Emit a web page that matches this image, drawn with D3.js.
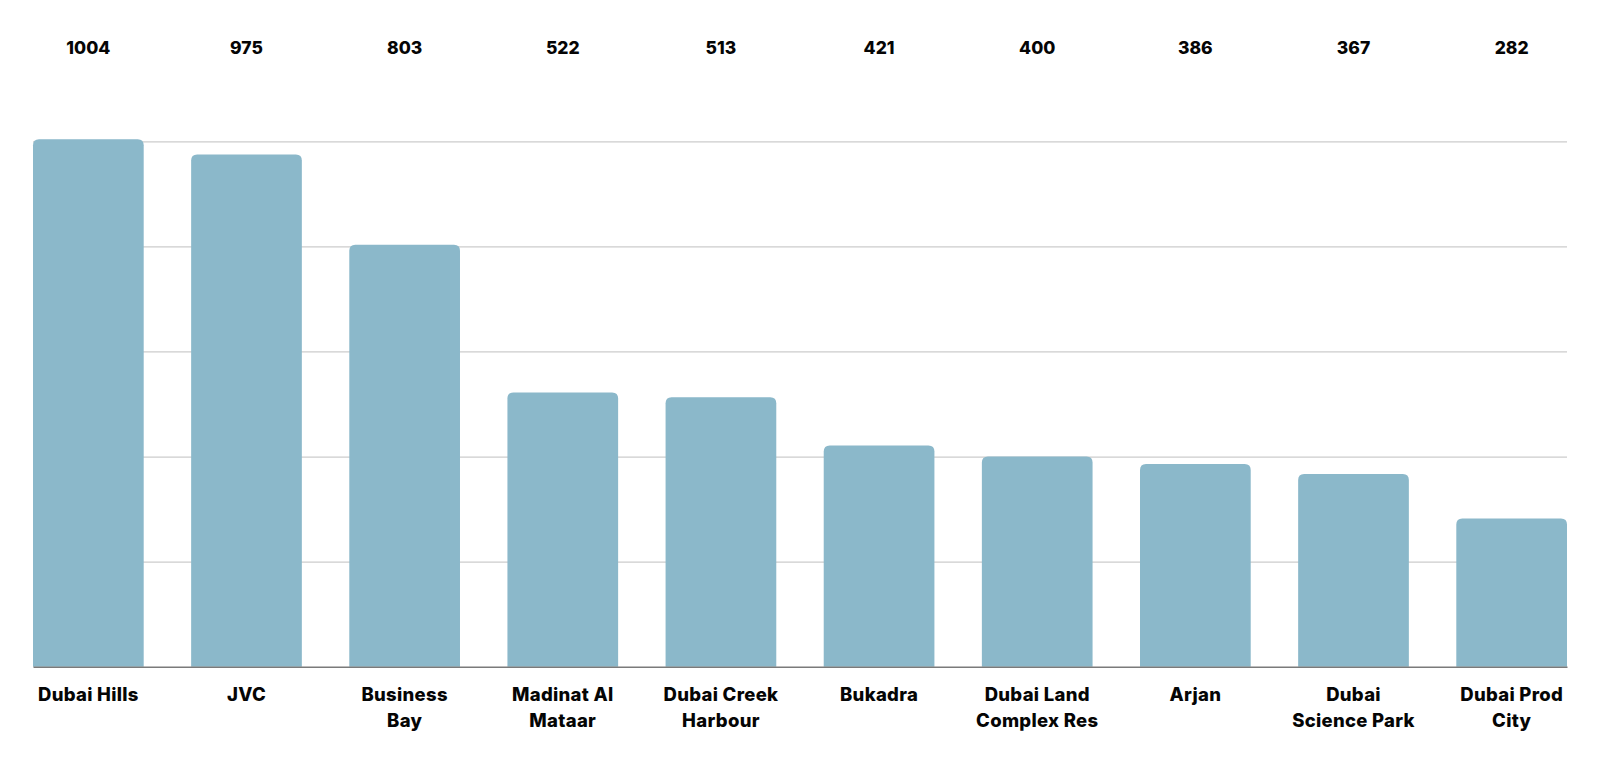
<!DOCTYPE html>
<html>
<head>
<meta charset="utf-8">
<script src="https://cdn.jsdelivr.net/npm/d3@7"></script>
<style>
  html, body { margin: 0; padding: 0; background: #fff; }
  svg { display: block; }
  text { font-family: Inter, "Open Sans", sans-serif; font-weight: 800; fill: #050505; }
</style>
</head>
<body>
<svg id="chart" width="1600" height="768"></svg>
<script>
const categories = ["Dubai Hills", "JVC", "Business\nBay", "Madinat Al\nMataar", "Dubai Creek\nHarbour", "Bukadra", "Dubai Land\nComplex Res", "Arjan", "Dubai\nScience Park", "Dubai Prod\nCity"];
const values = [1004, 975, 803, 522, 513, 421, 400, 386, 367, 282];
const yTicks = [0, 200, 400, 600, 800, 1000];

const svg = d3.select("#chart");
const plotLeft = 33, plotRight = 1567, plotTop = 141.3, plotBottom = 666.7;

const x = d3.scaleBand().domain(d3.range(categories.length)).range([plotLeft, plotRight]).paddingInner(0.3).paddingOuter(0);
const y = d3.scaleLinear().domain([0, 1000]).range([plotBottom, plotTop]);

// gridlines
const yAxis = d3.axisLeft(y).tickValues(yTicks.filter(d => d > 0)).tickSize(-(plotRight - plotLeft)).tickFormat("");
const gy = svg.append("g").attr("transform", `translate(${plotLeft},0)`).call(yAxis);
gy.select(".domain").remove();
gy.selectAll(".tick line").attr("stroke", "#cccccc").attr("stroke-width", 1.2);

const r = 6;
function topRounded(x0, y0, w, h) {
  const rr = Math.min(r, h, w / 2);
  return `M${x0},${y0 + h}V${y0 + rr}Q${x0},${y0} ${x0 + rr},${y0}H${x0 + w - rr}Q${x0 + w},${y0} ${x0 + w},${y0 + rr}V${y0 + h}Z`;
}

svg.append("g").selectAll("path").data(values).join("path")
  .attr("d", (d, i) => topRounded(x(i), y(d), x.bandwidth(), y(0) - y(d)))
  .attr("fill", "#8bb8ca");

// baseline
const xAxis = d3.axisBottom(x).tickSize(0).tickFormat("");
const gx = svg.append("g").attr("transform", `translate(0,${plotBottom})`).call(xAxis);
gx.select(".domain").attr("stroke", "#7a7a7a").attr("stroke-width", 1.5);

// value labels
svg.append("g").selectAll("text").data(values).join("text")
  .attr("x", (d, i) => x(i) + x.bandwidth() / 2)
  .attr("y", 54)
  .attr("text-anchor", "middle")
  .attr("font-size", 17.5)
  .text(d => d);

// category labels
const lab = svg.append("g").selectAll("text").data(categories).join("text")
  .attr("text-anchor", "middle")
  .attr("font-size", 18.5)
  .attr("letter-spacing", 0.3)
  .attr("transform", (d, i) => `translate(${x(i) + x.bandwidth() / 2},701)`);
lab.selectAll("tspan").data(d => d.split("\n")).join("tspan")
  .attr("x", 0)
  .attr("dy", (d, j) => j === 0 ? 0 : 26)
  .text(d => d);
</script>
</body>
</html>
